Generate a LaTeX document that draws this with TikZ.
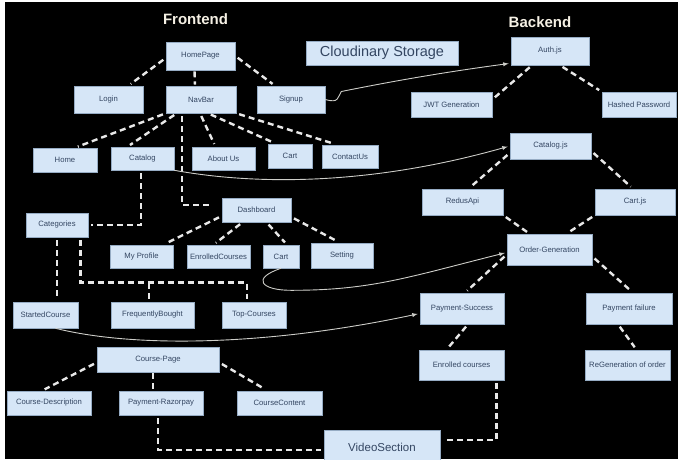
\documentclass[tikz,border=0pt]{standalone}
\usepackage{fontspec}
\setmainfont{Liberation Sans}
\usetikzlibrary{arrows}
\tikzset{>=latex}
\definecolor{boxblue}{RGB}{214, 230, 247}
\definecolor{boxline}{RGB}{150, 172, 196}
\definecolor{boxtext}{RGB}{52, 70, 98}
\definecolor{dashgray}{RGB}{232, 232, 232}
\definecolor{curvegray}{RGB}{205, 205, 200}
\definecolor{titlecream}{RGB}{245, 240, 228}

\begin{document}
\begin{tikzpicture}[x=1pt, y=-1pt,
  box/.style={draw=boxline, line width=0.6, fill=boxblue, text=boxtext, inner sep=0pt, font=\fontsize{7.7}{9}\selectfont},
  dashline/.style={draw=dashgray, line width=2.4, dash pattern=on 6pt off 4pt, shorten <=3pt, shorten >=3pt},
  flow/.style={draw=curvegray, line width=0.9, ->, shorten >=2pt},
  heading/.style={text=titlecream, font=\fontsize{15}{18}\selectfont\bfseries}]

\fill[white] (0,0) rectangle (678,459);
\fill[black] (5,2) rectangle (678,459);
\useasboundingbox (0,0) rectangle (678,459);
\clip (0,0) rectangle (678,459);

\node[heading] (front) at (195.5,19) {Frontend};
\node[heading] (back) at (540,22) {Backend};

\node[box, minimum width=69, minimum height=28] (homepage) at (200.5,56) {HomePage};
\node[box, minimum width=152, minimum height=24, font=\fontsize{14.5}{17}\selectfont] (cloud) at (382,53) {Cloudinary Storage};
\node[box, minimum width=78, minimum height=28] (auth) at (550,51) {Auth.js};
\node[box, minimum width=69, minimum height=27] (login) at (108.5,99.5) {Login};
\node[box, minimum width=70, minimum height=27] (navbar) at (201,99.5) {NavBar};
\node[box, minimum width=68, minimum height=27] (signup) at (291,99.5) {Signup};
\node[box, minimum width=81, minimum height=25] (jwt) at (451.5,104.5) {JWT Generation};
\node[box, minimum width=74, minimum height=25] (hashed) at (639,104.5) {Hashed Password};

\node[box, minimum width=64, minimum height=24] (home) at (65,160) {Home};
\node[box, minimum width=63, minimum height=23] (catalog) at (142.5,158.5) {Catalog};
\node[box, minimum width=63, minimum height=23] (about) at (223.5,158.5) {About Us};
\node[box, minimum width=44, minimum height=24] (cart) at (290,156) {Cart};
\node[box, minimum width=56, minimum height=23] (contact) at (350,156.5) {ContactUs};
\node[box, minimum width=81, minimum height=26] (catalogjs) at (550.5,146) {Catalog.js};
\node[box, minimum width=81, minimum height=26] (redus) at (462.5,202) {RedusApi};
\node[box, minimum width=80, minimum height=26] (cartjs) at (635,202) {Cart.js};
\node[box, minimum width=85, minimum height=31] (order) at (549.5,249.5) {Order-Generation};

\node[box, minimum width=69, minimum height=24] (dashboard) at (256.5,210) {Dashboard};
\node[box, minimum width=62, minimum height=24] (categories) at (57,225) {Categories};
\node[box, minimum width=63, minimum height=23] (myprofile) at (141.5,256.5) {My Profile};
\node[box, minimum width=63, minimum height=23] (enrolled) at (218.5,256.5) {EnrolledCourses};
\node[box, minimum width=36, minimum height=23] (cart2) at (281,256.5) {Cart};
\node[box, minimum width=62, minimum height=25] (setting) at (342,255.5) {Setting};

\node[box, minimum width=84, minimum height=31] (paysuccess) at (462,308.5) {Payment-Success};
\node[box, minimum width=86, minimum height=31] (payfail) at (629,308.5) {Payment failure};
\node[box, minimum width=65, minimum height=26] (started) at (45.5,315) {StartedCourse};
\node[box, minimum width=83, minimum height=26] (freq) at (152.5,315) {FrequentlyBought};
\node[box, minimum width=64, minimum height=26] (top) at (254,315) {Top-Courses};
\node[box, minimum width=122, minimum height=25] (coursepage) at (158,359.5) {Course-Page};
\node[box, minimum width=85, minimum height=30] (enrolledc) at (461.5,365) {Enrolled courses};
\node[box, minimum width=85, minimum height=30] (regen) at (627.5,365) {ReGeneration of order};
\node[box, minimum width=84, minimum height=24] (desc) at (49,403) {Course-Description};
\node[box, minimum width=84, minimum height=24] (razorpay) at (161,403) {Payment-Razorpay};
\node[box, minimum width=85, minimum height=24] (content) at (279.5,403) {CourseContent};
\node[box, minimum width=116, minimum height=34, font=\fontsize{11.5}{14}\selectfont] (video) at (382,447) {VideoSection};

\draw[dashline] ([yshift=-2pt]homepage.west) -- ([xshift=-15pt]login.north east);
\draw[dashline, shorten <=1pt, shorten >=1pt] ([xshift=-6pt]homepage.south) -- ([xshift=-6pt]navbar.north);
\draw[dashline] (homepage.east) -- ([xshift=-16pt]signup.north);
\draw[dashline] (navbar.south west) -- ([xshift=10pt]home.north);
\draw[dashline] ([xshift=11pt]navbar.south west) -- ([xshift=-15pt]catalog.north);
\draw[dashline, shorten >=9pt] ([xshift=16pt]navbar.south west) |- ([yshift=5pt]dashboard.west);
\draw[dashline] ([xshift=-1pt]navbar.south) -- ([xshift=-8pt]about.north);
\draw[dashline] ([xshift=7pt]navbar.south) -- ([xshift=-14pt]cart.north);
\draw[dashline] (navbar.south east) -- ([xshift=-13pt]contact.north);
\draw[dashline] ([xshift=-1.5pt]catalog.south) |- (categories.east);

\draw[dashline] ([yshift=-6pt]dashboard.west) -- ([xshift=-10pt]myprofile.north east);
\draw[dashline] ([xshift=-14pt]dashboard.south) -- ([xshift=-5pt]enrolled.north);
\draw[dashline] ([xshift=10pt]dashboard.south) -- ([xshift=6pt]cart2.north);
\draw[dashline] ([yshift=-7pt]dashboard.east) -- ([xshift=-2pt]setting.north);

\draw[dashline] (categories.south) -- (categories.south |- started.north);
\draw[dashline] ([xshift=-8pt]categories.south east) -- ++(0,45) -| ([xshift=-7pt]top.north);
\draw[dashline, shorten >=0pt] ([xshift=-3.5pt]freq.north) -- ++(0,-20);

\draw[dashline] ([xshift=-18pt]auth.south) -- ([yshift=5pt]jwt.east);
\draw[dashline] ([xshift=10pt]auth.south) -- (hashed.north west);
\draw[dashline] ([yshift=-7pt]catalogjs.west) -- ([xshift=6pt]redus.north);
\draw[dashline] ([yshift=-5pt]catalogjs.east) -- ([xshift=-2pt]cartjs.north);
\draw[dashline] (redus.south east) -- ([xshift=-20pt]order.north);
\draw[dashline] (cartjs.south west) -- ([xshift=17pt]order.north);
\draw[dashline] ([yshift=-5pt]order.west) -- ([xshift=3pt]paysuccess.north);
\draw[dashline] ([yshift=-7pt]order.east) -- ([xshift=4pt]payfail.north);
\draw[dashline] ([xshift=6pt]paysuccess.south) -- ([xshift=-15pt]enrolledc.north);
\draw[dashline] ([xshift=-11pt]payfail.south) -- ([xshift=9pt]regen.north);
\draw[dashline] ([xshift=-8pt]enrolledc.south east) |- ([yshift=7pt]video.east);

\draw[dashline] ([yshift=-3pt]coursepage.west) -- ([xshift=-7pt]desc.north);
\draw[dashline, shorten <=1pt, shorten >=1pt] ([xshift=-5pt]coursepage.south) -- ([xshift=-8pt]razorpay.north);
\draw[dashline] ([yshift=-3pt]coursepage.east) -- ([xshift=-12pt]content.north);
\draw[dashline] ([xshift=-3pt]razorpay.south) |- ([yshift=-3pt]video.west);

\draw[flow] (signup.east) .. controls +(14,4) and +(-4,6) .. ++(16,-8) .. controls +(60,-12) and +(-60,8) .. ([yshift=2pt]auth.south west);
\draw[flow] (catalog.south east) .. controls +(100,18) and +(-120,34) .. (catalogjs.west);
\draw[flow] (cart2.south) .. controls +(-30,10) and +(-30,0) .. ++(10,22) .. controls +(80,0) and +(-100,25) .. ([yshift=-3pt]order.west);
\draw[flow] ([xshift=10pt]started.south) .. controls +(80,20) and +(-150,32) .. ([yshift=-5pt]paysuccess.west);

\end{tikzpicture}
\end{document}
